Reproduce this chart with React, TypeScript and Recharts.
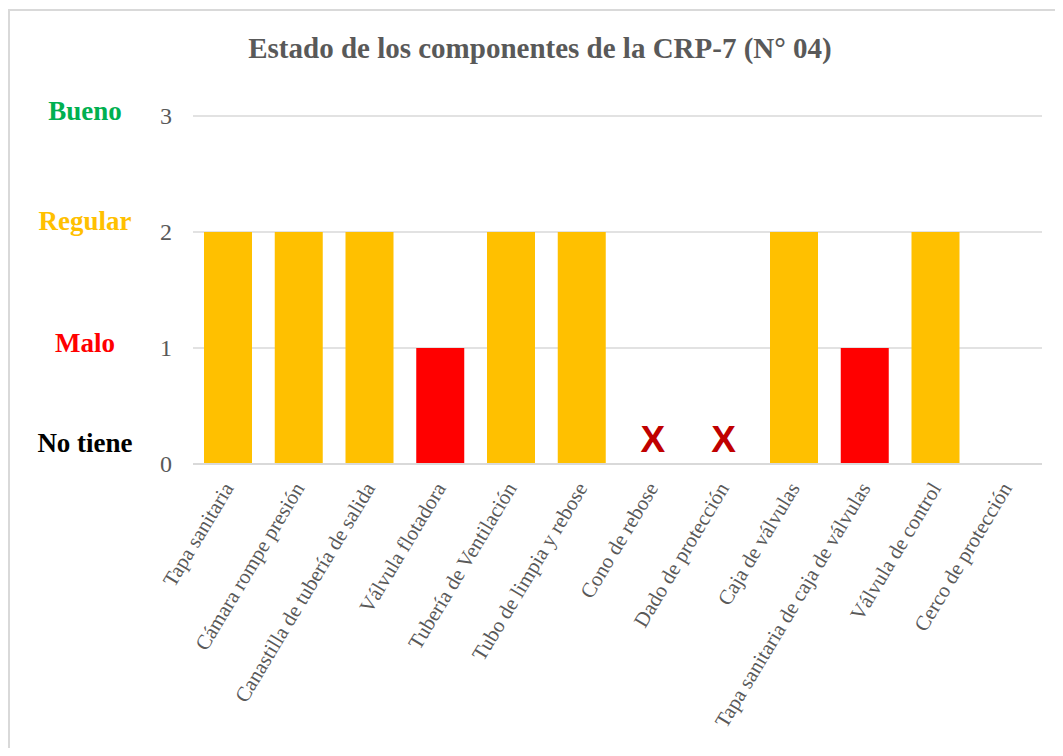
import React from "react";
import { ComposedChart, Bar, Line, XAxis, YAxis, CartesianGrid, Cell } from "recharts";

const TITLE = "Estado de los componentes de la CRP-7 (N° 04)";

const categories = [
  "Tapa sanitaria",
  "Cámara rompe presión",
  "Canastilla de tubería de salida",
  "Válvula flotadora",
  "Tubería de Ventilación",
  "Tubo de limpia y rebose",
  "Cono de rebose",
  "Dado de protección",
  "Caja de válvulas",
  "Tapa sanitaria de caja de válvulas",
  "Válvula de control",
  "Cerco de protección",
];

const estado = [2, 2, 2, 1, 2, 2, 0, 0, 2, 1, 2, 0];

const noTieneMark = [false, false, false, false, false, false, true, true, false, false, false, false];

const yTicks = [0, 1, 2, 3];
const levelLabels = ["No tiene", "Malo", "Regular", "Bueno"];

const levelColors = ["#000000", "#FF0000", "#FFC000", "#00B050"];
const barColors: Record<number, string> = { 1: "#FF0000", 2: "#FFC000", 3: "#00B050" };

const data = categories.map((name, i) => ({
  name,
  value: estado[i],
  markY: noTieneMark[i] ? 0 : null,
}));

const SERIF = "'Liberation Serif', 'Times New Roman', serif";

const YTick = (props: any) => {
  const { y, payload } = props;
  const v = payload.value as number;
  const labelY = v === 0 ? y - 12 : y + (v === 2 ? -2 : 4);
  return (
    <g>
      <text x={172} y={y + 8} textAnchor="end" fontFamily={SERIF} fontSize={24} fill="#595959">
        {v}
      </text>
      <text
        x={85}
        y={labelY}
        textAnchor="middle"
        fontFamily={SERIF}
        fontSize={27}
        fontWeight="bold"
        fill={levelColors[v]}
      >
        {levelLabels[v]}
      </text>
    </g>
  );
};

const XTick = (props: any) => {
  const { x, y, payload } = props;
  const ax = x + 6;
  const ay = y + 24;
  return (
    <text
      x={ax}
      y={ay}
      transform={`rotate(-59, ${ax}, ${ay})`}
      textAnchor="end"
      fontFamily={SERIF}
      fontSize={21}
      fill="#595959"
    >
      {payload.value}
    </text>
  );
};

const MarkDot = (props: any) => {
  const { cx, cy, payload, index } = props;
  if (!payload || payload.markY === null || payload.markY === undefined || cy == null) {
    return <g key={`m-${index}`} />;
  }
  return (
    <text
      key={`m-${index}`}
      x={cx}
      y={cy - 12}
      textAnchor="middle"
      fontFamily="'Liberation Sans', Arial, sans-serif"
      fontWeight="bold"
      fontSize={37}
      fill="#C00000"
    >
      X
    </text>
  );
};

export default function App() {
  return (
    <div style={{ position: "relative", margin: -8, width: 1063, height: 756, overflow: "hidden", background: "#fff" }}>
      <div
        style={{
          position: "absolute",
          left: 8,
          top: 9,
          width: 1100,
          height: 800,
          border: "2px solid #D9D9D9",
          boxSizing: "border-box",
        }}
      />
      <div style={{ position: "absolute", left: 0, top: 0 }}>
        <ComposedChart
          width={1063}
          height={756}
          data={data}
          margin={{ top: 116, right: 21, bottom: 0, left: 0 }}
          barSize={48}
        >
          <CartesianGrid horizontal={true} vertical={false} stroke="#D9D9D9" strokeWidth={1.5} />
          <XAxis
            dataKey="name"
            height={292}
            interval={0}
            tickLine={false}
            tickSize={0}
            tickMargin={0}
            axisLine={{ stroke: "#D9D9D9", strokeWidth: 2 }}
            tick={<XTick />}
          />
          <YAxis
            width={193}
            domain={[0, 3]}
            ticks={yTicks}
            axisLine={false}
            tickLine={false}
            tick={<YTick />}
          />
          <Bar dataKey="value" isAnimationActive={false}>
            {data.map((d, i) => (
              <Cell key={i} fill={barColors[d.value] || "#FFFFFF"} />
            ))}
          </Bar>
          <Line
            dataKey="markY"
            stroke="none"
            isAnimationActive={false}
            connectNulls={false}
            dot={<MarkDot />}
            activeDot={false}
          />
        </ComposedChart>
      </div>
      <svg style={{ position: "absolute", left: 0, top: 0 }} width={1063} height={80}>
        <text x={540} y={58} textAnchor="middle" fontFamily={SERIF} fontSize={29} fontWeight="bold" fill="#595959">
          {TITLE}
        </text>
      </svg>
    </div>
  );
}
